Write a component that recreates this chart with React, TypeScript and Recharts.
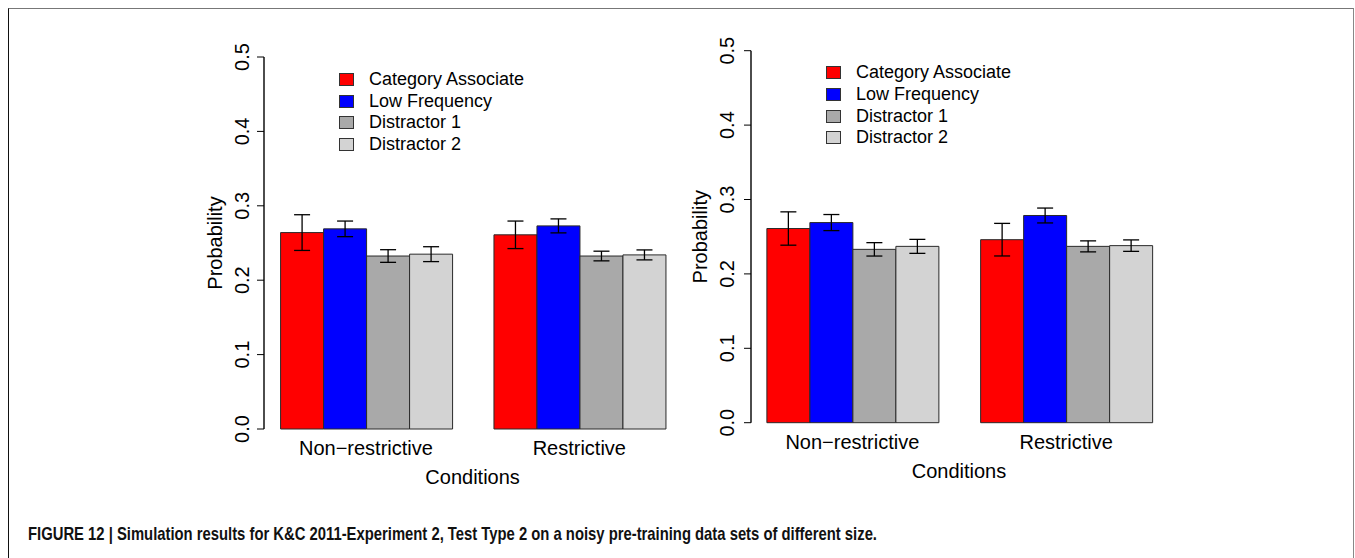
import { BarChart, Bar, XAxis, YAxis, ErrorBar, Legend } from 'recharts'

const FONT = '"Liberation Sans", Arial, Helvetica, sans-serif'

const categories = ['Non\u2212restrictive', 'Restrictive']
const seriesNames = ['Category Associate', 'Low Frequency', 'Distractor 1', 'Distractor 2']
const seriesColors = ['#ff0000', '#0000ff', '#a9a9a9', '#d3d3d3']
const yTicks = [0, 0.1, 0.2, 0.3, 0.4, 0.5]

// left panel
const leftCatAssoc = [0.264, 0.261]
const leftCatAssocErr = [0.024, 0.0185]
const leftLowFreq = [0.269, 0.273]
const leftLowFreqErr = [0.0105, 0.0094]
const leftDist1 = [0.2325, 0.2325]
const leftDist1Err = [0.0085, 0.0065]
const leftDist2 = [0.235, 0.234]
const leftDist2Err = [0.01, 0.0067]

// right panel
const rightCatAssoc = [0.261, 0.246]
const rightCatAssocErr = [0.0224, 0.0219]
const rightLowFreq = [0.269, 0.2785]
const rightLowFreqErr = [0.0108, 0.01]
const rightDist1 = [0.233, 0.237]
const rightDist1Err = [0.009, 0.0074]
const rightDist2 = [0.237, 0.238]
const rightDist2Err = [0.0094, 0.0077]

const caption =
  'FIGURE 12 | Simulation results for K&C 2011-Experiment 2, Test Type 2 on a noisy pre-training data sets of different size.'

function buildRows(vals: number[][], errs: number[][]) {
  return categories.map((c, i) => {
    const row: Record<string, string | number> = { cond: c }
    vals.forEach((v, s) => {
      row[`s${s}`] = v[i]
      row[`e${s}`] = errs[s][i]
    })
    return row
  })
}

const leftRows = buildRows(
  [leftCatAssoc, leftLowFreq, leftDist1, leftDist2],
  [leftCatAssocErr, leftLowFreqErr, leftDist1Err, leftDist2Err]
)
const rightRows = buildRows(
  [rightCatAssoc, rightLowFreq, rightDist1, rightDist2],
  [rightCatAssocErr, rightLowFreqErr, rightDist1Err, rightDist2Err]
)

const YTick = (props: any) => {
  const { x, y, payload } = props
  return (
    <text
      x={x}
      y={y}
      transform={`rotate(-90, ${x}, ${y})`}
      textAnchor="middle"
      fontSize={20}
      fontFamily={FONT}
      fill="#000"
    >
      {Number(payload.value).toFixed(1)}
    </text>
  )
}

const LegendBox = () => (
  <div style={{ fontFamily: FONT, fontSize: 18, color: '#000' }}>
    {seriesNames.map((n, i) => (
      <div key={n} style={{ display: 'flex', alignItems: 'center', height: 21.7, whiteSpace: 'nowrap' }}>
        <span
          style={{
            display: 'inline-block',
            width: 13,
            height: 11,
            background: seriesColors[i],
            border: '1px solid #333',
            marginRight: 15,
          }}
        />
        <span>{n}</span>
      </div>
    ))}
  </div>
)

interface PanelProps {
  rows: Record<string, string | number>[]
  left: number
  top: number
  yAxisWidth: number
  tickMargin: number
  labelDx: number
  legendTop: number
  padLeft: number
}

function Panel({ rows, left, top, yAxisWidth, tickMargin, labelDx, legendTop, padLeft }: PanelProps) {
  return (
    <div style={{ position: 'absolute', left: left, top: 0 }}>
      <BarChart
        width={560}
        height={500}
        data={rows}
        margin={{ top: top, right: 24, left: 114 - yAxisWidth, bottom: 500 - top - 372 - 55 }}
        barCategoryGap="10%"
        barGap={0}
      >
        <XAxis
          dataKey="cond"
          axisLine={false}
          tickLine={false}
          tickSize={0}
          tickMargin={12}
          height={55}
          padding={{ left: padLeft, right: 0 }}
          tick={{ fontSize: 20, fontFamily: FONT, fill: '#000' }}
          label={{ value: 'Conditions', position: 'insideBottom', offset: 0, dx: labelDx, fontSize: 20, fontFamily: FONT, fill: '#000' }}
        />
        <YAxis
          domain={[0, 0.5]}
          ticks={yTicks}
          width={yAxisWidth}
          tickSize={7}
          tickMargin={tickMargin}
          axisLine={{ stroke: '#000', strokeWidth: 1.4 }}
          tickLine={{ stroke: '#000', strokeWidth: 1 }}
          tick={<YTick />}
          label={{ value: 'Probability', angle: -90, position: 'center', fontSize: 20, fontFamily: FONT, fill: '#000' }}
        />
        <Legend
          layout="vertical"
          align="center"
          verticalAlign="middle"
          content={<LegendBox />}
          wrapperStyle={{ position: 'absolute', left: 189, top: legendTop, width: 'auto', margin: 0 }}
        />
        {seriesNames.map((n, i) => (
          <Bar
            key={n}
            dataKey={`s${i}`}
            name={n}
            fill={seriesColors[i]}
            stroke="#2a2a2a"
            strokeWidth={1}
            isAnimationActive={false}
          >
            <ErrorBar dataKey={`e${i}`} width={8} stroke="#000" strokeWidth={1.3} direction="y" />
          </Bar>
        ))}
      </BarChart>
    </div>
  )
}

export default function App() {
  return (
    <div style={{ position: 'absolute', left: 0, top: 0, width: 1355, height: 558, background: '#fff', overflow: 'hidden' }}>
      <div
        style={{
          position: 'absolute',
          left: 8,
          top: 8,
          width: 1344,
          height: 560,
          borderTop: '1.5px solid #777',
          borderLeft: '1.5px solid #111',
          borderRight: '1.5px solid #888',
        }}
      />
      <Panel rows={leftRows} left={150} top={57} yAxisWidth={98} tickMargin={8.3} labelDx={-2.4} legendTop={68.5} padLeft={-4.75} />
      <Panel rows={rightRows} left={637} top={50.7} yAxisWidth={102} tickMargin={10} labelDx={-3} legendTop={61.9} padLeft={-5.5} />
      <svg style={{ position: 'absolute', left: 0, top: 0 }} width={1355} height={558}>
        <text
          x={28}
          y={540}
          textLength={849}
          lengthAdjust="spacingAndGlyphs"
          fontFamily={FONT}
          fontWeight="bold"
          fontSize={17.7}
          fill="#111"
        >
          {caption}
        </text>
      </svg>
    </div>
  )
}
